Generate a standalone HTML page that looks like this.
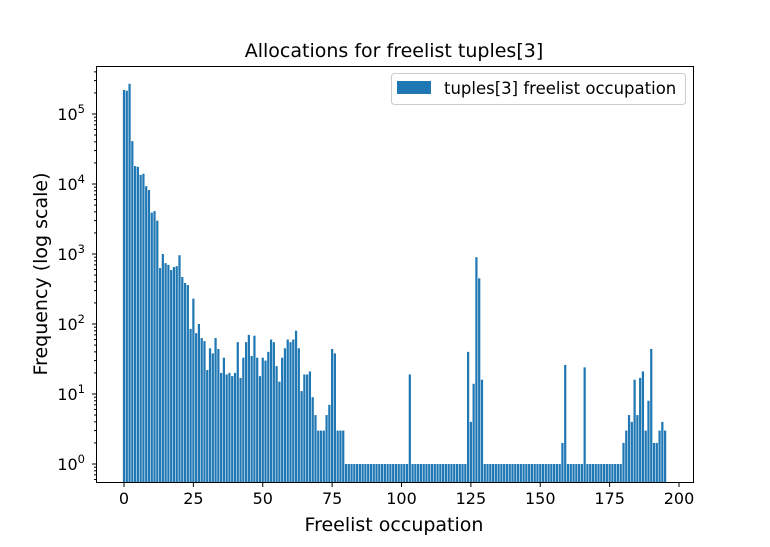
<!DOCTYPE html>
<html><head><meta charset="utf-8"><style>
html,body{margin:0;padding:0;background:#fff;}
svg text{font-family:"DejaVu Sans","Liberation Sans",sans-serif;fill:#000;}
</style></head><body>
<svg id="s" width="770" height="542" xmlns="http://www.w3.org/2000/svg">
<rect width="770" height="542" fill="#fff"/>
<g id="bars" fill="#1f77b4"></g>
<g id="ax" stroke="#000" stroke-width="1" fill="none">
<rect x="96.5" y="66.5" width="597" height="416"/>
</g>
<g id="ticks" stroke="#000" stroke-width="1"></g>
<g id="labels" font-size="16"></g>
<text x="394" y="57" font-size="19" text-anchor="middle">Allocations for freelist tuples[3]</text>
<text x="394" y="531" font-size="19" text-anchor="middle">Freelist occupation</text>
<text transform="translate(47,274) rotate(-90)" font-size="19" text-anchor="middle">Frequency (log scale)</text>
<rect x="391.5" y="73.5" width="294" height="31" rx="3" fill="#fff" stroke="#ccc"/>
<rect x="397" y="81" width="34" height="13" fill="#1f77b4"/>
<text x="444" y="94" font-size="16.5">tuples[3] freelist occupation</text>
</svg>
<script>
var v={0:220000,1:215000,2:270000,3:41000,4:18000,5:17600,6:13500,7:14000,8:9300,9:8200,10:3900,11:4100,12:3000,13:630,14:1000,15:740,16:700,17:590,18:650,19:670,20:960,21:470,22:385,23:360,24:85,25:230,26:74,27:100,28:63,29:57,30:22,31:45,32:38,33:63,34:44,35:20,36:33,37:19,38:20,39:18,40:20,41:55,42:17,43:33,44:55,45:70,46:35,47:68,48:33,49:18,50:33,51:30,52:40,53:60,54:55,55:25,56:15,57:33,58:45,59:60,60:55,61:60,62:80,63:45,64:11,65:19,66:19,67:21,68:9,69:5,70:3,71:3,72:3,73:5,74:7,75:44,76:38,77:3,78:3,79:3,
103:19,124:40,125:4,126:14,127:900,128:450,129:16,158:2,159:26,166:24,180:2,181:3,182:5,183:4,184:16,185:5,186:17,187:21,188:3,189:8,190:44,191:2,192:2,193:3,194:4,195:3};
function X(u){return 124+2.775*u;}
function Y(val){return 464-70*Math.log10(val);}
var bars=document.getElementById('bars'),h='';
for(var i=0;i<196;i++){var val=v[i]!==undefined?v[i]:1;var y=Y(val);
h+='<rect x="'+(X(i)-1.11).toFixed(2)+'" y="'+y.toFixed(2)+'" width="2.22" height="'+(482-y).toFixed(2)+'"/>';}
bars.innerHTML=h;
var t='',l='';
for(var k=0;k<=200;k+=25){var x=X(k);t+='<line x1="'+x+'" y1="482.5" x2="'+x+'" y2="487"/>';l+='<text x="'+x+'" y="504" text-anchor="middle">'+k+'</text>';}
for(var d=-1;d<=5;d++){for(var m=1;m<10;m++){var val=m*Math.pow(10,d);var y=Y(val);if(y<66||y>482)continue;
if(m==1){t+='<line x1="92" y1="'+y+'" x2="96.5" y2="'+y+'"/>';l+='<text x="85" y="'+(y+6)+'" text-anchor="end">10<tspan font-size="11.5" dy="-7">'+d+'</tspan></text>';}
else t+='<line x1="94" y1="'+y+'" x2="96.5" y2="'+y+'"/>';}}
document.getElementById('ticks').innerHTML=t;document.getElementById('labels').innerHTML=l;
</script>
</body></html>
